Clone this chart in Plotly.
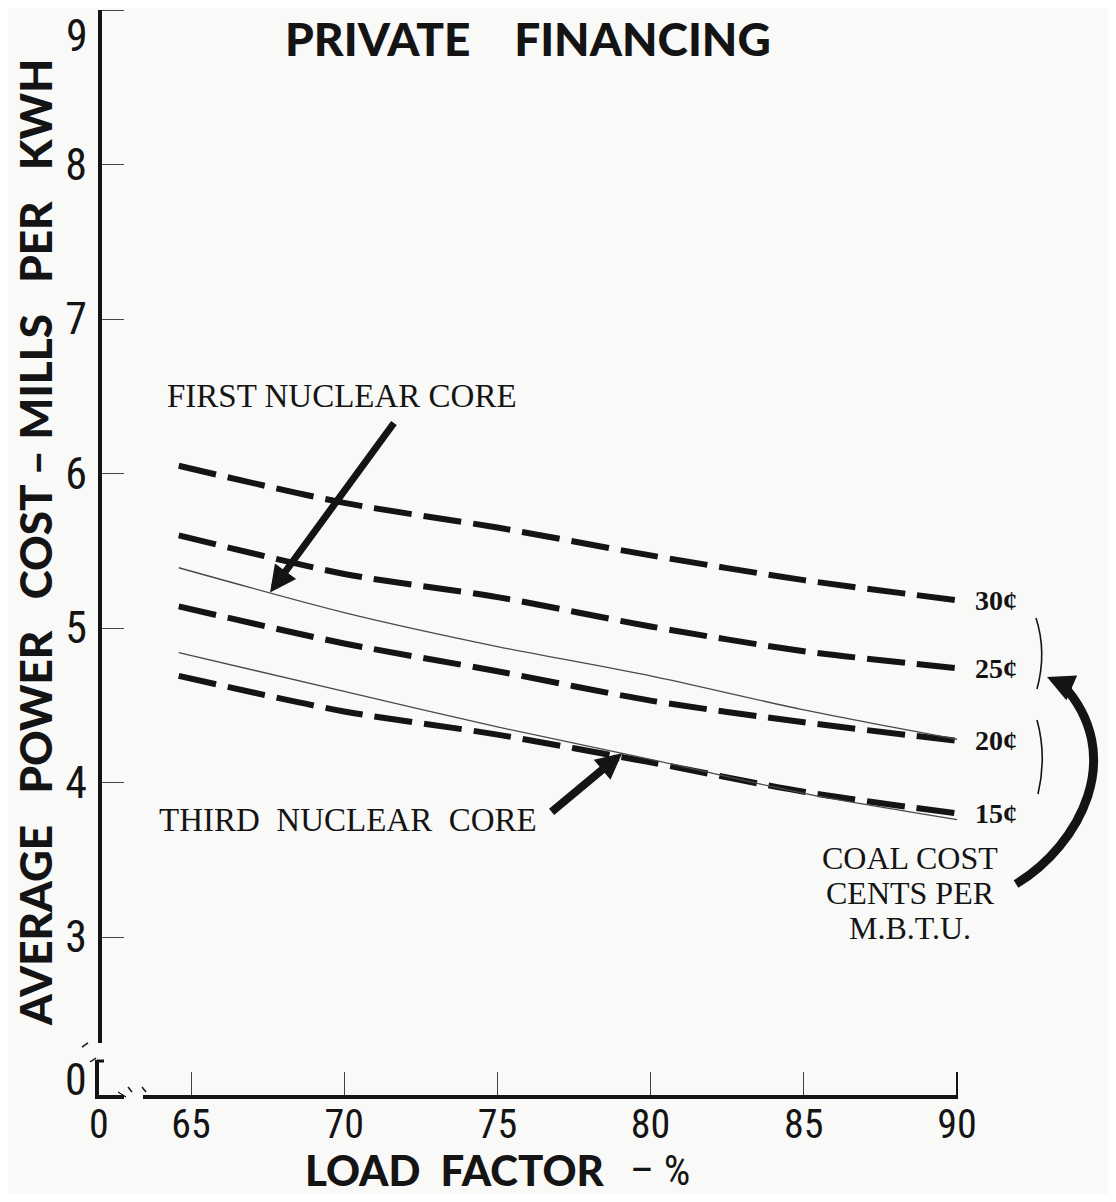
import plotly.graph_objects as go

# ---------------- data ----------------
load_factor = [64.6, 70, 75, 80, 85, 90]
coal_30 = [6.05, 5.81, 5.65, 5.47, 5.31, 5.18]
coal_25 = [5.60, 5.35, 5.20, 5.01, 4.85, 4.74]
coal_20 = [5.14, 4.90, 4.72, 4.53, 4.39, 4.27]
coal_15 = [4.69, 4.46, 4.31, 4.13, 3.94, 3.80]
first_core = [5.39, 5.10, 4.88, 4.69, 4.47, 4.28]
third_core = [4.84, 4.59, 4.36, 4.15, 3.93, 3.76]
coal_labels = ["30¢", "25¢", "20¢", "15¢"]
x_ticks = [65, 70, 75, 80, 85, 90]
y_ticks = [3, 4, 5, 6, 7, 8, 9]

# ---------------- layout geometry (screen pixels; page body has an 8px margin) ----------------
OFF = 8
W, H = 1116 - 2 * OFF, 1202 - 2 * OFF
PLOT_L, PLOT_B, PLOT_T, PLOT_R = 100, 1097, OFF, 1116 - OFF   # screen px
ML = PLOT_L - OFF
MB = (H + OFF) - PLOT_B
MT = PLOT_T - OFF
MR = (W + OFF) - PLOT_R
PW = PLOT_R - PLOT_L
PH = PLOT_B - PLOT_T
PX_PER_X = 30.64
PX_PER_Y = 154.5
X_AT_LEFT = 65 - (191 - PLOT_L) / PX_PER_X
Y_AT_TOP = 9 + (10 - PLOT_T) / PX_PER_Y
x_range = [X_AT_LEFT, X_AT_LEFT + PW / PX_PER_X]
y_range = [Y_AT_TOP - PH / PX_PER_Y, Y_AT_TOP]


def xp(p):
    return (p - PLOT_L) / PW


def yp(p):
    return (PLOT_B - p) / PH


INK = "#141414"
BG = "#f9f9f8"
SERIF = "Liberation Serif, Times New Roman, serif"
BOLD_SANS = "Lato, Noto Sans, DejaVu Sans, sans-serif"
NARROW = "Roboto Condensed, DejaVu Sans Condensed, Liberation Sans Narrow, Roboto, sans-serif"

fig = go.Figure()

dash_style = dict(color=INK, width=6, dash="38px,12px")
for vals in [coal_30, coal_25, coal_20, coal_15]:
    fig.add_trace(go.Scatter(x=load_factor, y=vals, mode="lines",
                             line=dict(shape="spline", smoothing=0.8, **dash_style),
                             hoverinfo="skip", showlegend=False))
for vals in [first_core, third_core]:
    fig.add_trace(go.Scatter(x=load_factor, y=vals, mode="lines",
                             line=dict(color="#4a4a4a", width=1.3, shape="spline", smoothing=0.8),
                             hoverinfo="skip", showlegend=False))

shapes = []


def seg(x0, y0, x1, y1, w=4, c=INK):
    shapes.append(dict(type="line", xref="paper", yref="paper",
                       x0=xp(x0), y0=yp(y0), x1=xp(x1), y1=yp(y1),
                       line=dict(color=c, width=w)))


def path(points_cmd, w=2, c=INK, fill=None):
    s = ""
    for cmd, pts in points_cmd:
        s += cmd + " " + " ".join(f"{xp(a):.5f},{yp(b):.5f}" for a, b in pts) + " "
    d = dict(type="path", xref="paper", yref="paper", path=s.strip(),
             line=dict(color=c, width=w))
    if fill:
        d["fillcolor"] = fill
    shapes.append(d)


# axes (broken)
seg(100, 10, 100, 1043, 4)
seg(97, 1060, 97, 1098, 4)
seg(97, 1061, 104, 1061, 3)
seg(95, 1097, 124, 1097, 4)
seg(143, 1097, 958, 1097, 4)
seg(957, 1072, 957, 1097, 2)
# break marks
path([("M", [(82, 1047)]), ("L", [(88, 1043), (94, 1047), (100, 1043), (106, 1047), (112, 1043)])], 1.5)
path([("M", [(90, 1062)]), ("L", [(96, 1058), (102, 1062), (108, 1058), (113, 1061)])], 1.5)
path([("M", [(128, 1087)]), ("L", [(132, 1092), (127, 1097), (132, 1102), (128, 1108)])], 1.5)
path([("M", [(142, 1087)]), ("L", [(146, 1092), (141, 1097), (146, 1102), (142, 1108)])], 1.5)
path([("M", [(118, 1092)]), ("L", [(126, 1097), (118, 1102)]), ("Z", [])], 1, INK, INK)
# brackets beside coal labels
path([("M", [(1036, 618)]), ("Q", [(1047, 652), (1037, 689)])], 1.6)
path([("M", [(1037, 720)]), ("Q", [(1047, 756), (1038, 794)])], 1.6)
# curved arrow from COAL COST note
path([("M", [(1016, 884)]), ("C", [(1080, 845), (1128, 755), (1062, 684)])], 9)

annotations = []


def text(s, x, y, size, family=SERIF, xanchor="center", yanchor="middle", weight="normal", angle=0, color=INK):
    annotations.append(dict(text=s, xref="paper", yref="paper", x=xp(x), y=yp(y),
                            xanchor=xanchor, yanchor=yanchor, showarrow=False,
                            textangle=angle,
                            font=dict(family=family, size=size, color=color, weight=weight)))


text("PRIVATE    FINANCING", 528, 9, 46, BOLD_SANS, yanchor="top", weight=900)
text("AVERAGE   POWER   COST – MILLS   PER   KWH", 35, 543, 44, BOLD_SANS, weight=900, angle=-90)
text("LOAD  FACTOR", 303, 1170, 42, BOLD_SANS, xanchor="left", weight=900)
text("– %", 628, 1170, 42, NARROW, xanchor="left")
text("0", 76, 1080, 44, NARROW)
text("0", 99, 1124, 40, NARROW)
text("9", 77, 36, 44, NARROW)
text("FIRST NUCLEAR CORE", 342, 396, 33)
text("THIRD  NUCLEAR  CORE", 348, 820, 33)
for lab, vals in zip(coal_labels, [coal_30, coal_25, coal_20, coal_15]):
    annotations.append(dict(text=lab, xref="x", yref="y", x=load_factor[-1], y=vals[-1],
                            xanchor="left", yanchor="middle", xshift=16, showarrow=False,
                            font=dict(family=SERIF, size=28, color=INK, weight="bold")))
text("COAL COST", 910, 858, 32)
text("CENTS PER", 910, 893, 32)
text("M.B.T.U.", 910, 928, 32)

# arrows
annotations.append(dict(x=67.58, y=5.23, xref="x", yref="y", text="", showarrow=True,
                        ax=125, ay=-171, arrowhead=2, arrowwidth=7, arrowsize=0.75,
                        arrowcolor=INK))
annotations.append(dict(x=79.07, y=4.19, xref="x", yref="y", text="", showarrow=True,
                        ax=-72, ay=60, arrowhead=2, arrowwidth=8, arrowsize=0.65,
                        arrowcolor=INK))
annotations.append(dict(x=xp(1047), y=yp(677), xref="paper", yref="paper", text="", showarrow=True,
                        ax=16, ay=7, arrowhead=2, arrowwidth=6, arrowsize=0.9,
                        arrowcolor=INK))

fig.update_layout(
    width=W, height=H,
    margin=dict(l=ML, r=MR, t=MT, b=MB),
    paper_bgcolor=BG, plot_bgcolor=BG,
    showlegend=False,
    shapes=shapes, annotations=annotations,
    xaxis=dict(range=x_range, tickvals=x_ticks, ticktext=[str(v) for v in x_ticks],
               ticks="inside", ticklen=25, tickwidth=1, tickcolor="#444",
               showgrid=False, zeroline=False, showline=False, automargin=False,
               tickfont=dict(family=NARROW, size=40, color=INK), ticklabelstandoff=0),
    yaxis=dict(range=y_range, tickvals=y_ticks,
               ticktext=["" if v == 9 else str(v) for v in y_ticks],
               ticks="inside", ticklen=24, tickwidth=1, tickcolor="#444",
               showgrid=False, zeroline=False, showline=False, automargin=False,
               tickfont=dict(family=NARROW, size=44, color=INK), ticklabelstandoff=12),
)

fig.write_html("out.html")
